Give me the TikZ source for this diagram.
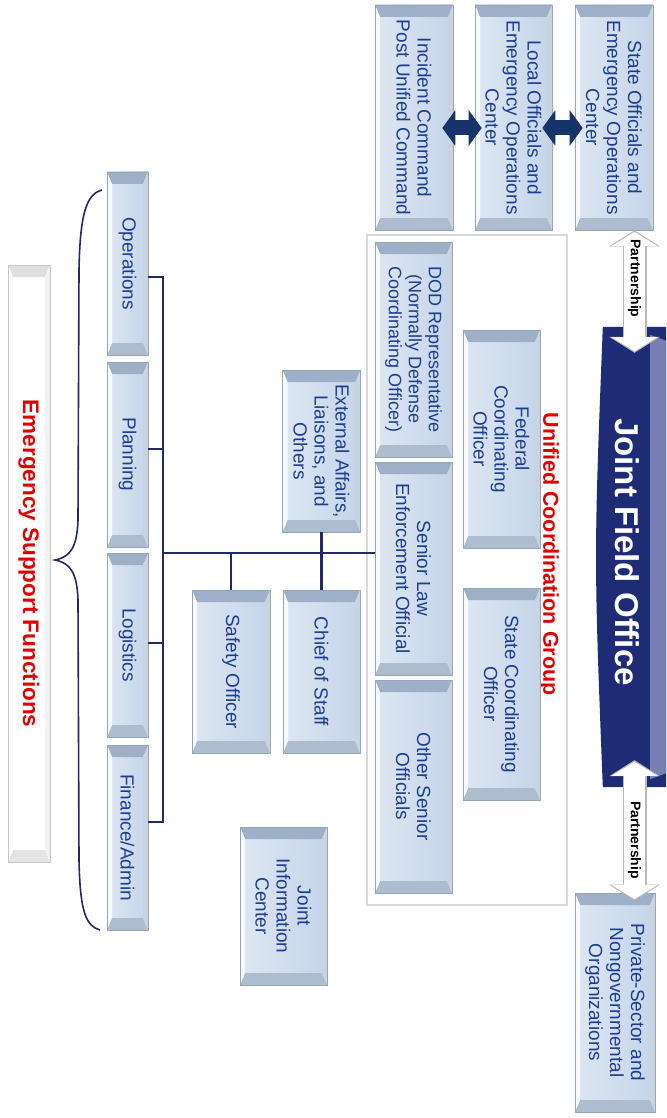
\documentclass[tikz,border=0pt]{standalone}
\usepackage{fontspec}
\setmainfont{Liberation Sans}
\usetikzlibrary{calc,arrows.meta}
\definecolor{boxtxt}{RGB}{28,62,145}
\definecolor{boxfill}{RGB}{196,212,233}
\definecolor{boxlite}{RGB}{222,231,243}
\definecolor{boxend}{RGB}{158,176,199}
\definecolor{boxedge}{RGB}{150,165,186}
\definecolor{navy}{RGB}{35,40,105}
\definecolor{arrnavy}{RGB}{22,52,105}
\definecolor{jfonavy}{RGB}{30,44,118}
\definecolor{jfoband}{RGB}{118,126,180}
\definecolor{ucgred}{RGB}{222,0,0}
\colorlet{boxlside}{white!80!boxlite}
\colorlet{boxrside}{boxend!55!white}
\colorlet{wend}{gray!25}
\colorlet{wlside}{white}
\colorlet{wrside}{gray!10}
\tikzset{
  bevelpic/.style n args={3}{path picture={
    \coordinate (q1) at (path picture bounding box.north west);
    \coordinate (q2) at (path picture bounding box.north east);
    \coordinate (q3) at (path picture bounding box.south east);
    \coordinate (q4) at (path picture bounding box.south west);
    \fill[#1] (q1) -- (q2) -- ($(q2)+(-5pt,-12pt)$) -- ($(q1)+(5pt,-12pt)$) -- cycle;
    \fill[#1!85!white] (q4) -- (q3) -- ($(q3)+(-5pt,12pt)$) -- ($(q4)+(5pt,12pt)$) -- cycle;
    \fill[#2] (q1) -- ($(q1)+(5pt,-12pt)$) -- ($(q4)+(5pt,12pt)$) -- (q4) -- cycle;
    \fill[#3] (q2) -- ($(q2)+(-5pt,-12pt)$) -- ($(q3)+(-5pt,12pt)$) -- (q3) -- cycle;
  }},
  bluebox/.style={draw=boxedge, line width=0.6pt, left color=boxlite, right color=boxfill,
    inner sep=0pt, bevelpic={boxend}{boxlside}{boxrside}},
  whitebox/.style={draw=gray!45, line width=0.8pt, fill=white, inner sep=0pt,
    bevelpic={wend}{wlside}{wrside}},
  groupbox/.style={draw=gray!30, line width=1.3pt, fill=white, inner sep=0pt},
  txt/.style={rotate=-90, text=boxtxt, align=center, font=\fontsize{19}{21}\selectfont},
  conn/.style={draw=navy, line width=2.2pt},
  navyarrow/.style={draw=arrnavy, line width=15pt,
    {Triangle[length=13pt,width=35pt]}-{Triangle[length=13pt,width=35pt]}},
  partarrow/.style={draw=white, line width=21pt,
    {Triangle[length=14pt,width=45pt]}-{Triangle[length=14pt,width=45pt]},
    shorten >=1.6pt, shorten <=1.6pt,
    preaction={draw=gray!55, line width=24pt, shorten >=0pt, shorten <=0pt,
      arrows={Triangle[length=16pt,width=50pt]-Triangle[length=16pt,width=50pt]}}},
  parttxt/.style={rotate=-90, text=black, font=\bfseries\fontsize{14}{14}\selectfont},
  bigred/.style={rotate=-90, text=ucgred, font=\bfseries\fontsize{#1}{#1}\selectfont},
  bracestyle/.style={draw=navy, line width=1.6pt}
}
\begin{document}
\begin{tikzpicture}[x=1pt,y=1pt]
\useasboundingbox (0,0) rectangle (666,-1118);
\fill[white] (0,0) rectangle (666,-1118);

% Unified coordination group container
\node[groupbox, minimum width=200, minimum height=670] (ucg) at (467,-570) {};
\node[bigred=21.5] (ucgT) at (549,-554) {Unified Coordination Group};

% Joint Field Office banner
\node[minimum width=63, minimum height=460, inner sep=0pt] (jfo) at (634.5,-557) {};
\fill[jfonavy] (jfo.north west) -- (jfo.north east) -- (jfo.south east) -- (jfo.south west)
  .. controls ([xshift=-9pt]jfo.west) .. (jfo.north west);
\fill[jfoband] ([xshift=-16pt,yshift=-8pt]jfo.north east) -- ([yshift=-14pt]jfo.north east)
  -- ([yshift=14pt]jfo.south east) -- ([xshift=-16pt,yshift=8pt]jfo.south east) -- cycle;
\node[rotate=-90, text=white, font=\bfseries\fontsize{33}{33}\selectfont] (jfoT) at (627,-552) {Joint Field Office};

% Top boxes
\node[bluebox, minimum width=78, minimum height=225] (state) at (614,-117.5) {};
\node[txt] (stateT) at (state) {State Officials and\\Emergency Operations\\Center};
\node[bluebox, minimum width=77, minimum height=225] (local) at (513.5,-117.5) {};
\node[txt] (localT) at (local) {Local Officials and\\Emergency Operations\\Center};
\node[bluebox, minimum width=78, minimum height=225] (incident) at (414,-117.5) {};
\node[txt] (incidentT) at (incident) {Incident Command\\Post Unified Command};
\node[bluebox, minimum width=80, minimum height=219] (private) at (615,-1002.5) {};
\node[txt] (privateT) at (private) {Private-Sector and\\Nongovernmental\\Organizations};

% Navy double arrows
\draw[navyarrow] ([xshift=8pt,yshift=-10.5pt]state.west) -- ([xshift=-10pt,yshift=-10.5pt]local.east);
\draw[navyarrow] ([xshift=7pt,yshift=-10.5pt]local.west) -- ([xshift=-11pt,yshift=-10.5pt]incident.east);

% Partnership arrows
\draw[partarrow] (jfo.north |- state.south) -- ([yshift=-26pt]jfo.north);
\node[parttxt] (p1) at ($(jfo.north |- state.south)!0.5!(jfo.north)$) {Partnership};
\draw[partarrow] ([yshift=27pt]jfo.south) -- ([yshift=-8pt]jfo.south |- private.north);
\node[parttxt] (p2) at ($(jfo.south)!0.5!(jfo.south |- private.north)$) {Partnership};

% Unified coordination group members
\node[bluebox, minimum width=77, minimum height=218] (fco) at (501.5,-439) {};
\node[txt] (fcoT) at (fco) {Federal\\Coordinating\\Officer};
\node[bluebox, minimum width=77, minimum height=212] (sco) at (501.5,-694) {};
\node[txt] (scoT) at (sco) {State Coordinating\\Officer};
\node[bluebox, minimum width=77, minimum height=215] (dod) at (413.5,-349.5) {};
\node[txt, font=\fontsize{18}{20}\selectfont] (dodT) at (dod) {DOD Representative\\(Normally Defense\\Coordinating Officer)};
\node[bluebox, minimum width=77, minimum height=213] (slaw) at (413.5,-568.5) {};
\node[txt] (slawT) at (slaw) {Senior Law\\Enforcement Official};
\node[bluebox, minimum width=77, minimum height=213] (other) at (413.5,-786.5) {};
\node[txt] (otherT) at (other) {Other Senior\\Officials};

% Staff
\node[bluebox, minimum width=78, minimum height=162] (ext) at (321.5,-451) {};
\node[txt] (extT) at (ext) {External Affairs,\\Liaisons, and\\Others};
\node[bluebox, minimum width=77, minimum height=163] (chief) at (321.5,-671.5) {};
\node[txt] (chiefT) at (chief) {Chief of Staff};
\node[bluebox, minimum width=78, minimum height=163] (safety) at (231,-671.5) {};
\node[txt] (safetyT) at (safety) {Safety Officer};
\node[bluebox, minimum width=87, minimum height=158] (jic) at (283.5,-906) {};
\node[txt] (jicT) at (jic) {Joint\\Information\\Center};

% Sections
\node[bluebox, minimum width=41, minimum height=183] (ops) at (127.5,-263.5) {};
\node[txt] (opsT) at (ops) {Operations};
\node[bluebox, minimum width=41, minimum height=185] (plan) at (127.5,-454.5) {};
\node[txt] (planT) at (plan) {Planning};
\node[bluebox, minimum width=41, minimum height=184] (logi) at (127.5,-645) {};
\node[txt] (logiT) at (logi) {Logistics};
\node[bluebox, minimum width=41, minimum height=185] (fin) at (127.5,-837.5) {};
\node[txt] (finT) at (fin) {Finance/Admin};

% ESF
\node[whitebox, minimum width=42, minimum height=597] (esf) at (29,-563.5) {};
\node[bigred=22.5] (esfT) at (esf) {Emergency Support Functions};

% Connectors
\coordinate (hub) at (163,-553);
\draw[conn] ([yshift=-13.5pt]ops.east) -| (hub);
\draw[conn] ([yshift=5.5pt]plan.east) -| (hub);
\draw[conn] ([yshift=2pt]logi.east) -| (hub);
\draw[conn] ([yshift=15.5pt]fin.east) -| (hub);
\draw[conn] (hub) -- (hub -| slaw.west);
\draw[conn] (ext.south) -- (chief.north);
\draw[conn] (safety.north) -- (safety.north |- hub);

% Brace
\coordinate (br1) at (102,-190);
\coordinate (br2) at (55,-560);
\coordinate (br3) at (100,-930);
\draw[bracestyle] (br1) .. controls (86,-194) and (80,-215) .. (79,-270) -- (78,-520)
  .. controls (77,-548) and (70,-557) .. (br2)
  .. controls (70,-563) and (77,-572) .. (78,-600) -- (79,-860)
  .. controls (80,-912) and (86,-926) .. (br3);
\end{tikzpicture}
\end{document}
